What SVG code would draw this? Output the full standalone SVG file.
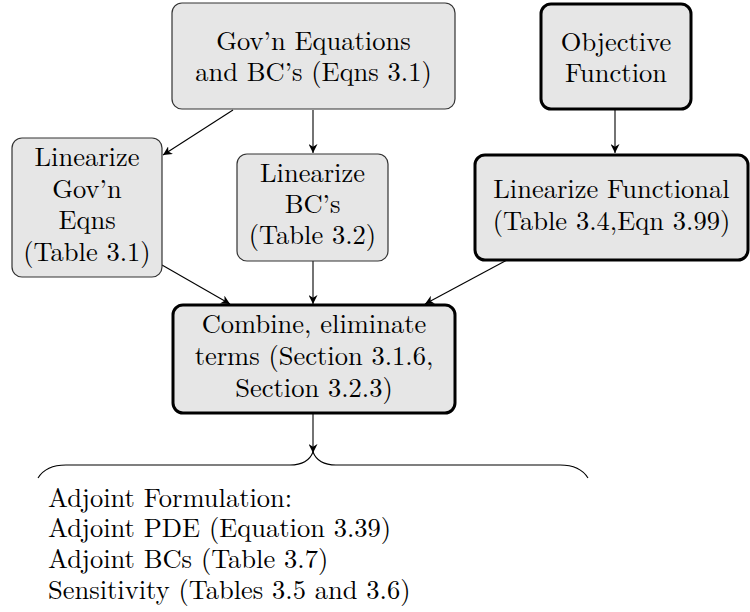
<svg xmlns="http://www.w3.org/2000/svg" width="750" height="612" viewBox="0 0 750 612">
  <style>
    .box { fill: #e6e6e6; stroke: #333333; stroke-width: 1.2; }
    .bold { fill: #e6e6e6; stroke: #000000; stroke-width: 3; }
    .edge { stroke: #000000; stroke-width: 1.1; fill: none; marker-end: url(#arrow); }
    .brace { stroke: #000000; stroke-width: 1.1; fill: none; }
  </style>
  <defs>
    <marker id="arrow" viewBox="0 0 10 10" refX="10" refY="5" markerWidth="9" markerHeight="9" markerUnits="userSpaceOnUse" orient="auto">
      <path d="M0,0 L10,5 L0,10 L3,5 Z" fill="#000000"/>
    </marker>
  </defs>

  <g id="connectors">
    <line class="edge" x1="233" y1="110" x2="163" y2="155"/>
    <line class="edge" x1="313" y1="110" x2="313" y2="153"/>
    <line class="edge" x1="615" y1="109" x2="615" y2="153"/>
    <line class="edge" x1="162" y1="265" x2="230" y2="304"/>
    <line class="edge" x1="313" y1="261" x2="313" y2="304"/>
    <line class="edge" x1="507" y1="260" x2="425" y2="304"/>
    <line class="edge" x1="313" y1="413" x2="313" y2="453"/>
  </g>

  <g font-family="Latin Modern Roman, Liberation Serif, serif" font-size="26.5" fill="#000000">
    <g id="govn" text-anchor="middle">
      <rect class="box" x="172" y="3" width="283" height="106" rx="10"/>
      <text x="313.5" y="50">Gov’n Equations</text>
      <text x="313.5" y="81">and BC’s (Eqns 3.1)</text>
    </g>

    <g id="objective" text-anchor="middle">
      <rect class="bold" x="541" y="4" width="150" height="105" rx="10"/>
      <text x="616" y="51">Objective</text>
      <text x="616" y="82">Function</text>
    </g>

    <g id="lin-govn" text-anchor="middle">
      <rect class="box" x="12" y="138" width="150" height="139" rx="10"/>
      <text x="87" y="166">Linearize</text>
      <text x="87" y="198">Gov’n</text>
      <text x="87" y="229">Eqns</text>
      <text x="87" y="261">(Table 3.1)</text>
    </g>

    <g id="lin-bcs" text-anchor="middle">
      <rect class="box" x="237" y="154" width="151" height="107" rx="10"/>
      <text x="312.5" y="182">Linearize</text>
      <text x="312.5" y="213">BC’s</text>
      <text x="312.5" y="244">(Table 3.2)</text>
    </g>

    <g id="lin-functional" text-anchor="middle">
      <rect class="bold" x="475" y="155" width="273" height="105" rx="10"/>
      <text x="611.5" y="198">Linearize Functional</text>
      <text x="611.5" y="230">(Table 3.4,Eqn 3.99)</text>
    </g>

    <g id="combine" text-anchor="middle">
      <rect class="bold" x="173" y="305" width="282" height="108" rx="10"/>
      <text x="314" y="333">Combine, eliminate</text>
      <text x="314" y="365">terms (Section 3.1.6,</text>
      <text x="314" y="397">Section 3.2.3)</text>
    </g>

    <g id="adjoint">
      <path class="brace" d="M38,478 Q46,465 66,465 L290,465 Q308,465 313,452 Q318,465 336,465 L560,465 Q580,465 588,478"/>
      <text x="48" y="507">Adjoint Formulation:</text>
      <text x="48" y="537">Adjoint PDE (Equation 3.39)</text>
      <text x="48" y="568">Adjoint BCs (Table 3.7)</text>
      <text x="48" y="599">Sensitivity (Tables 3.5 and 3.6)</text>
    </g>
  </g>
</svg>
